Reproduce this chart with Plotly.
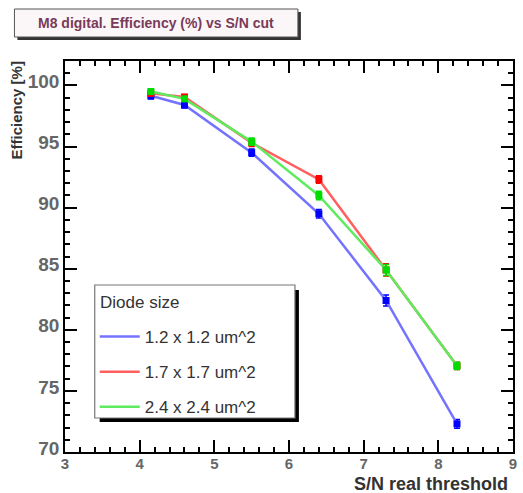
import plotly.graph_objects as go

# ---- data ----
thresholds = [4.15, 4.6, 5.5, 6.4, 7.3, 8.25]
series_names = ["1.2 x 1.2 um^2", "1.7 x 1.7 um^2", "2.4 x 2.4 um^2"]
eff_12 = [99.15, 98.4, 94.5, 89.5, 82.4, 72.3]
err_12 = [0.25, 0.25, 0.3, 0.35, 0.45, 0.35]
eff_17 = [99.35, 99.05, 95.3, 92.3, 84.9, 77.05]
err_17 = [0.2, 0.2, 0.3, 0.3, 0.5, 0.3]
eff_24 = [99.5, 98.9, 95.4, 91.0, 84.9, 77.05]
err_24 = [0.2, 0.2, 0.3, 0.35, 0.45, 0.3]
x_ticks = [3, 4, 5, 6, 7, 8, 9]
y_ticks = [70, 75, 80, 85, 90, 95, 100]
x_range = [3, 9]
y_range = [70, 102]

W, H = 523, 493
L, R, T, B = 65, 6, 61, 41
PW, PH = W - L - R, H - T - B


def px(xp):
    return (xp - L) / PW


def py(yp):
    return (H - B - yp) / PH


line_cols = ["rgb(115,115,255)", "rgb(255,95,95)", "rgb(95,235,95)"]
mark_cols = ["rgb(0,0,255)", "rgb(255,0,0)", "rgb(0,220,0)"]
FONT = "Liberation Sans"

fig = go.Figure()
for name, ys, es, lc, mc in zip(series_names, [eff_12, eff_17, eff_24],
                                [err_12, err_17, err_24], line_cols, mark_cols):
    fig.add_trace(go.Scatter(
        x=thresholds, y=ys, mode="lines+markers", showlegend=False,
        line=dict(color=lc, width=2.5),
        marker=dict(symbol="square", size=7, color=mc),
        error_y=dict(type="data", array=es, color=mc, thickness=1.5, width=3),
    ))
for i, (name, lc) in enumerate(zip(series_names, line_cols)):
    fig.add_trace(go.Scatter(
        x=[None], y=[None], mode="lines", name=name, legendgroup=str(i),
        line=dict(color=lc, width=2.5),
    ))

axis_common = dict(
    type="linear", showline=True, linecolor="black", linewidth=1.5, mirror="allticks",
    ticks="inside", tickcolor="black", tickwidth=1.5, showgrid=False, zeroline=False,
)
fig.update_layout(
    xaxis=dict(
        range=x_range, tickvals=x_ticks, ticklen=12,
        minor=dict(dtick=0.2, ticks="inside", ticklen=5, tickcolor="black", tickwidth=1.5),
        tickfont=dict(family=FONT, size=15, color="#666", weight="bold"),
        ticklabelstandoff=-3,
        **axis_common,
    ),
    yaxis=dict(
        range=y_range, tickvals=y_ticks, ticklen=12,
        minor=dict(dtick=1, ticks="inside", ticklen=5, tickcolor="black", tickwidth=1.5),
        tickfont=dict(family=FONT, size=19, color="#666", weight="bold"),
        ticklabelshift=-4,
        **axis_common,
    ),
)

# legend box with shadow
fig.add_shape(type="rect", xref="paper", yref="paper",
              x0=px(100), x1=px(301), y0=py(422), y1=py(290),
              fillcolor="black", line=dict(width=0), layer="above")
fig.add_shape(type="rect", xref="paper", yref="paper",
              x0=px(95), x1=px(297), y0=py(418), y1=py(285),
              fillcolor="white", line=dict(color="#777", width=1.2), layer="above")
# title box with shadow
fig.add_shape(type="rect", xref="paper", yref="paper",
              x0=px(17), x1=px(303), y0=py(40), y1=py(12),
              fillcolor="#333", line=dict(width=0), layer="above")
fig.add_shape(type="rect", xref="paper", yref="paper",
              x0=px(14), x1=px(300), y0=py(37), y1=py(9),
              fillcolor="#fbf7f9", line=dict(color="#555", width=1), layer="above")

fig.add_annotation(
    x=px(157), y=py(23), xref="paper", yref="paper", xanchor="center", yanchor="middle",
    text="<b>M8 digital. Efficiency (%) vs S/N cut</b>", showarrow=False,
    font=dict(family=FONT, size=14, color="#7a3a58"),
)
fig.add_annotation(
    x=px(98), y=py(302), xref="paper", yref="paper", xanchor="left", yanchor="middle",
    text="Diode size", showarrow=False,
    font=dict(family=FONT, size=17, color="#333"),
)
fig.add_annotation(
    x=px(17), y=py(59), xref="paper", yref="paper", xanchor="center", yanchor="top",
    text="<b>Efficiency [%]</b>", textangle=-90, showarrow=False,
    font=dict(family=FONT, size=15, color="#333"),
)
fig.add_annotation(
    x=px(514), y=py(484), xref="paper", yref="paper", xanchor="right", yanchor="middle",
    text="<b>S/N real threshold</b>", showarrow=False,
    font=dict(family=FONT, size=18, color="#333"),
)

fig.update_layout(
    width=W, height=H, margin=dict(l=L, r=R, t=T, b=B),
    paper_bgcolor="white", plot_bgcolor="white",
    legend=dict(
        x=px(95), y=py(319), xanchor="left", yanchor="top",
        bgcolor="rgba(0,0,0,0)", borderwidth=0,
        font=dict(family=FONT, size=17, color="#333"),
        tracegroupgap=10, itemwidth=40,
    ),
)

fig.write_html("out.html")
